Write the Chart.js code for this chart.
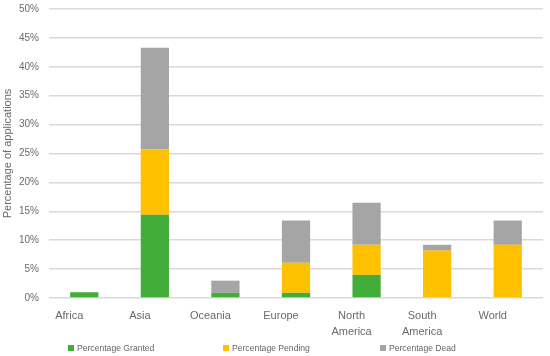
<!DOCTYPE html>
<html>
<head>
<meta charset="utf-8">
<script src="https://cdn.jsdelivr.net/npm/chart.js@4/dist/chart.umd.min.js"></script>
<style>
  html, body { margin: 0; padding: 0; background: #fff; }
  #wrap { position: relative; width: 550px; height: 356px; }
  #legend { position: absolute; left: 0; top: 343px; width: 550px; height: 12px;
            font-family: "Liberation Sans", Arial, sans-serif; font-size: 8.6px; color: #666; }
  .li { position: absolute; top: 0; display: flex; align-items: center; white-space: nowrap; }
  .sw { width: 6px; height: 6px; margin-right: 3px; }
</style>
</head>
<body>
<div id="wrap">
  <canvas id="c" width="550" height="356"></canvas>
  <div id="legend"></div>
</div>
<script>
const categories = ["Africa", ["Asia"], "Oceania", "Europe", ["North", "America"], ["South", "America"], "World"];
const granted = [1.0, 14.4, 0.9, 0.9, 4.0, 0, 0];
const pending = [0, 11.3, 0, 5.2, 5.2, 8.2, 9.2];
const dead    = [0, 17.6, 2.1, 7.3, 7.3, 1.0, 4.2];
const seriesNames = ["Percentage Granted", "Percentage Pending", "Percentage Dead"];
const seriesColors = ["#43AD3A", "#FFC000", "#A5A5A5"];
const yTicks = [0, 5, 10, 15, 20, 25, 30, 35, 40, 45, 50];

const FONT = '"Liberation Sans", Arial, sans-serif';
const TXT = '#6a6a6a';

const chart = new Chart(document.getElementById('c'), {
  type: 'bar',
  data: {
    labels: categories,
    datasets: [granted, pending, dead].map((d, i) => ({
      label: seriesNames[i],
      data: d,
      backgroundColor: seriesColors[i],
      borderWidth: 0,
      categoryPercentage: 0.4,
      barPercentage: 1.0
    }))
  },
  options: {
    responsive: false,
    animation: false,
    layout: { padding: { top: 9, right: 7, bottom: 0, left: 0 } },
    plugins: { legend: { display: false }, tooltip: { enabled: false } },
    scales: {
      x: {
        stacked: true,
        grid: { display: false, drawTicks: false },
        border: { display: false },
        afterFit: s => { s.height = 58; s.paddingLeft = 0; s.paddingRight = 0; },
        ticks: { color: TXT, font: { family: FONT, size: 11, lineHeight: 1.43 }, padding: 10.5, labelOffset: -15, maxRotation: 0, autoSkip: false }
      },
      y: {
        stacked: true,
        min: yTicks[0],
        max: yTicks[yTicks.length - 1],
        afterBuildTicks: s => { s.ticks = yTicks.map(v => ({ value: v })); },
        afterFit: s => { s.width = 49; s.paddingTop = 0; s.paddingBottom = 0; },
        grid: { color: '#d9d9d9', lineWidth: 1.5, drawTicks: false },
        border: { display: false },
        ticks: { color: TXT, font: { family: FONT, size: 10 }, padding: 10, callback: v => v + '%' },
        title: { display: true, text: 'Percentage of applications', color: TXT,
                 font: { family: FONT, size: 11 }, padding: { top: 1.4, bottom: 0 } }
      }
    }
  }
});

// HTML legend built from the chart's datasets
const legendLefts = [68, 223, 380];
const lg = document.getElementById('legend');
chart.data.datasets.forEach((ds, i) => {
  const item = document.createElement('div');
  item.className = 'li';
  item.style.left = legendLefts[i] + 'px';
  const sw = document.createElement('span');
  sw.className = 'sw';
  sw.style.background = ds.backgroundColor;
  const t = document.createElement('span');
  t.textContent = ds.label;
  item.appendChild(sw); item.appendChild(t);
  lg.appendChild(item);
});
</script>
</body>
</html>
